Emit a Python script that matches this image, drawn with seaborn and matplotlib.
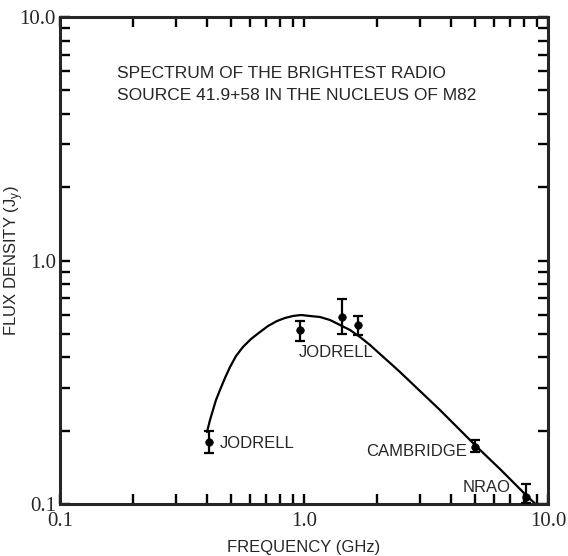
import matplotlib
matplotlib.use("Agg")
import matplotlib.pyplot as plt
import seaborn as sns
import pandas as pd
from matplotlib.ticker import LogLocator, FixedLocator, FixedFormatter, NullFormatter

# Measured data points
freq = [0.408, 0.963, 1.43, 1.66, 5.0, 8.1]
flux = [0.180, 0.518, 0.586, 0.543, 0.172, 0.107]
err_lo = [0.018, 0.051, 0.087, 0.049, 0.009, 0.006]
err_hi = [0.019, 0.047, 0.109, 0.049, 0.011, 0.014]

# Fitted spectrum curve
curve_freq = [0.4003, 0.4119, 0.4236, 0.4358, 0.4526, 0.4745, 0.4975, 0.5264,
              0.5623, 0.6066, 0.6602, 0.7122, 0.7752, 0.8357, 0.9013, 0.9721,
              1.058, 1.163, 1.279, 1.405, 1.544, 1.697, 1.865, 2.049, 2.252,
              2.474, 2.988, 3.609, 4.359, 5.117, 6.358, 8.279, 8.93]
curve_flux = [0.1976, 0.2213, 0.2432, 0.2673, 0.2939, 0.3293, 0.3653, 0.4053,
              0.4415, 0.4762, 0.5086, 0.5383, 0.5644, 0.5807, 0.5918, 0.5974,
              0.5918, 0.5861, 0.5697, 0.5434, 0.5183, 0.4851, 0.4498, 0.4130,
              0.3795, 0.3484, 0.2911, 0.2432, 0.2013, 0.1714, 0.1392, 0.1068,
              0.0996]

labels = ["JODRELL", "JODRELL", "CAMBRIDGE", "NRAO"]
title_lines = ["SPECTRUM OF THE BRIGHTEST RADIO", "SOURCE 41.9+58 IN THE NUCLEUS OF M82"]
tick_vals = [0.1, 1.0, 10.0]
tick_text = ["0.1", "1.0", "10.0"]

sns.set_style("ticks")
sans = ["Liberation Sans", "DejaVu Sans"]
serif = ["Liberation Serif", "DejaVu Serif"]
plt.rcParams["font.family"] = sans

fig = plt.figure(figsize=(5.68, 5.56), dpi=100)
ax = fig.add_axes([0.1056, 0.0935, 0.8592, 0.8759])

curve = pd.DataFrame({"freq": curve_freq, "flux": curve_flux})
sns.lineplot(data=curve, x="freq", y="flux", ax=ax, color="black", lw=1.6,
             sort=False, estimator=None)
pts = pd.DataFrame({"freq": freq, "flux": flux})
ax.errorbar(freq, flux, yerr=[err_lo, err_hi], fmt="none", ecolor="black",
            elinewidth=1.6, capsize=3.5, capthick=1.6, zorder=3)
sns.scatterplot(data=pts, x="freq", y="flux", ax=ax, color="black", s=30,
                edgecolor="black", zorder=4)

ax.set_xscale("log")
ax.set_yscale("log")
ax.set_xlim(0.1, 10)
ax.set_ylim(0.1, 10)

for s in ax.spines.values():
    s.set_linewidth(2.2)
    s.set_visible(True)

ax.xaxis.set_major_locator(FixedLocator(tick_vals))
ax.xaxis.set_major_formatter(FixedFormatter(tick_text))
ax.yaxis.set_major_locator(FixedLocator(tick_vals))
ax.yaxis.set_major_formatter(FixedFormatter(tick_text))
ax.xaxis.set_minor_locator(LogLocator(base=10, subs=range(2, 10)))
ax.yaxis.set_minor_locator(LogLocator(base=10, subs=range(2, 10)))
ax.xaxis.set_minor_formatter(NullFormatter())
ax.yaxis.set_minor_formatter(NullFormatter())
ax.tick_params(which="both", direction="in", top=True, right=True,
               length=7, width=1.7, color="black")
ax.tick_params(axis="x", which="major", pad=6)
ax.tick_params(axis="y", which="major", pad=3)
for lab in ax.get_xticklabels() + ax.get_yticklabels():
    lab.set_family(serif)
    lab.set_fontsize(15)

ax.set_xlabel("FREQUENCY (GHz)", fontsize=12)
ax.set_ylabel("FLUX DENSITY (J$_\\mathregular{y}$)", fontsize=12)
ax.xaxis.set_label_coords(0.5, -0.074)
ax.yaxis.set_label_coords(-0.072, 0.5)

ax.text(0.117, 0.885, title_lines[0], transform=ax.transAxes, fontsize=12.5,
        va="center", ha="left")
ax.text(0.117, 0.838, title_lines[1], transform=ax.transAxes, fontsize=12.5,
        va="center", ha="left")

ax.text(0.45, 0.178, labels[0], fontsize=12, va="center", ha="left")
ax.text(0.955, 0.421, labels[1], fontsize=12, va="center", ha="left")
ax.text(4.65, 0.165, labels[2], fontsize=12, va="center", ha="right")
ax.text(7.05, 0.117, labels[3], fontsize=12, va="center", ha="right")

fig.savefig("out.png", dpi=100)
